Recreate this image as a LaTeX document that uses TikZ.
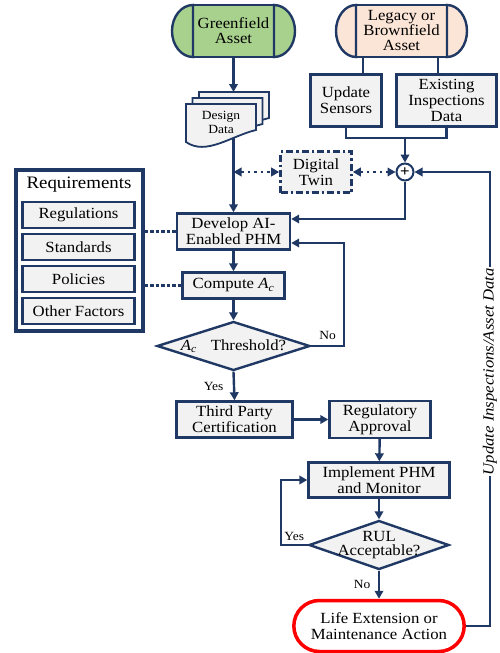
\documentclass[tikz,border=0pt]{standalone}
\usepackage{fontspec}
\setmainfont{Liberation Serif}[FakeStretch=1.08]
\usepackage{xcolor}
\usepackage{tikz}
\usetikzlibrary{arrows.meta, positioning, calc, shapes.geometric, shapes.misc}

\definecolor{navy}{HTML}{203864}
\definecolor{boxgray}{HTML}{F2F2F2}
\definecolor{greenfill}{HTML}{A9D18E}
\definecolor{peachfill}{HTML}{FBE5D6}

\newcommand{\Ac}{\textit{A}\textsubscript{\textit{c}}}
% one sheet of the stacked document symbol, top-left corner at (#1,#2)
\newcommand{\docsheet}[2]{%
  \draw[navy, line width=1.8pt, fill=boxgray] (#1,#2) -- ({#1+70},#2) -- ({#1+70},{#2-26})
    .. controls ({#1+45},{#2-32}) and ({#1+20},{#2-52}) .. (#1,{#2-38}) -- cycle;}

\begin{document}
\begin{tikzpicture}[
    x=1pt, y=1pt,
    font=\fontsize{15.5}{16}\selectfont,
    box/.style={draw=navy, line width=2.4pt, fill=boxgray, align=center, inner sep=1pt},
    capbox/.style={draw=navy, line width=2.4pt, align=center, inner sep=0pt, outer sep=0pt,
        minimum height=52pt, font=\fontsize{15.5}{15}\selectfont},
    dec/.style={draw=navy, line width=2.4pt, fill=boxgray, diamond, inner sep=0pt},
    reqbox/.style={box, minimum width=112pt, minimum height=26pt},
    twinbox/.style={box, dash pattern=on 7pt off 3pt on 2.5pt off 3pt, line width=2.6pt},
    arr/.style={navy, line width=2.4pt, -{Triangle[length=8pt, width=8.5pt]}},
    link/.style={navy, line width=2.4pt},
    dotarr/.style={navy, line width=2.6pt, dash pattern=on 2.5pt off 4pt,
        {Triangle[length=8pt, width=8.5pt]}-{Triangle[length=8pt, width=8.5pt]}},
    reqlink/.style={navy, line width=2.6pt, dash pattern=on 3.5pt off 2pt},
    lbl/.style={text=black, font=\fontsize{12.5}{14}\selectfont}
]
\useasboundingbox (0,0) rectangle (500,-653);

% start points
\node[capbox, fill=greenfill, minimum width=81pt] (green) at (233.5,-31) {Greenfield\\Asset};
\draw[link, fill=greenfill] (green.north west) arc[start angle=90, end angle=270, x radius=21, y radius=26] -- cycle;
\draw[link, fill=greenfill] (green.south east) arc[start angle=-90, end angle=90, x radius=21, y radius=26] -- cycle;

\node[capbox, fill=peachfill, minimum width=91pt] (legacy) at (401.5,-31) {Legacy or\\Brownfield\\Asset};
\draw[link, fill=peachfill] (legacy.north west) arc[start angle=90, end angle=270, x radius=20, y radius=26] -- cycle;
\draw[link, fill=peachfill] (legacy.south east) arc[start angle=-90, end angle=90, x radius=20, y radius=26] -- cycle;

\node[box, minimum width=71pt, minimum height=52pt] (sensors) at (346,-100.5) {Update\\Sensors};
\node[box, minimum width=100pt, minimum height=52pt] (existing) at (446.5,-100.5) {Existing\\Inspections\\Data};

% stacked design documents
\docsheet{199}{-92}
\docsheet{192.5}{-98}
\docsheet{186}{-104}
\node[lbl, align=center] (design) at (221,-122) {Design\\Data};
\coordinate (docstop) at (233.5,-92);
\coordinate (docfoot) at (233.5,-138);

\node[twinbox, minimum width=71pt, minimum height=41pt] (twin) at (316,-172) {Digital\\Twin};
\node[circle, draw=navy, line width=2pt, fill=white, minimum size=17pt, inner sep=0pt] (sum) at (405,-172) {\textbf{+}};
\coordinate (tap) at (docfoot |- twin);
\coordinate (join) at (405,-137);

% main flow
\node[box, minimum width=113pt, minimum height=36pt] (develop) at (233.5,-231.5) {Develop AI-\\Enabled PHM};
\node[box, minimum width=102pt, minimum height=26pt] (compute) at (233.5,-285.5) {Compute \Ac};
\node[dec, minimum width=153pt, minimum height=49pt] (thr) at (233.5,-346) {};
\node (thrtext) at (thr) {\Ac\hspace{14pt}Threshold?};
\node[box, minimum width=116pt, minimum height=36pt] (third) at (234.5,-419.5) {Third Party\\Certification};
\node[box, minimum width=101pt, minimum height=37pt] (reg) at (380,-419.5) {Regulatory\\Approval};
\node[box, minimum width=141pt, minimum height=35pt] (impl) at (379,-480) {Implement PHM\\and Monitor};
\node[dec, minimum width=140pt, minimum height=49pt] (rul) at (379,-545) {};
\node[align=center, font=\fontsize{15.5}{14.5}\selectfont] (rultext) at (rul) {RUL\\Acceptable?};
\node[rounded rectangle, draw=red, line width=3.5pt, fill=white, align=center,
    minimum width=177pt, minimum height=51pt] (life) at (379,-626) {Life Extension or\\Maintenance Action};

% requirements
\node[draw=navy, line width=4pt, fill=white, minimum width=127pt, minimum height=161pt] (req) at (79,-250) {};
\node[font=\fontsize{17.5}{18}\selectfont] (reqtitle) at (79,-185) {Requirements};
\node[reqbox] (regs) at (78.5,-215) {Regulations};
\node[reqbox, below=3.5pt of regs] (stds) {Standards};
\node[reqbox, below=3.5pt of stds] (pols) {Policies};
\node[reqbox, below=3.5pt of pols] (other) {Other Factors};

% connectors
\draw[arr] (green.south) -- (docstop);
\draw[link] ([xshift=-38.5pt]legacy.south) -- ([xshift=-38.5pt]legacy.south |- sensors.north);
\draw[link] ([xshift=36.5pt]legacy.south) -- ([xshift=36.5pt]legacy.south |- existing.north);
\draw[link] (sensors.south) -- ++(0,-10) -| (existing.south);
\draw[arr] (join) -- (sum.north);
\draw[dotarr] (tap) -- (twin.west);
\draw[dotarr] (twin.east) -- (sum.west);
\draw[arr] (docfoot) -- (develop.north);
\draw[arr] (sum.south) |- ([yshift=12.5pt]develop.east);
\draw[arr] (develop) -- (compute);
\draw[arr] (compute) -- (thr.north);
\draw[arr] (thr.east) -- node[lbl, above=2pt] (nolab) {No} ++(33,0) |- ([yshift=-11.5pt]develop.east);
\draw[arr] (thr.south) -- node[lbl, left=6pt] (yeslab) {Yes} (third.north);
\draw[arr] (third) -- (reg);
\draw[arr] (reg) -- (impl);
\draw[arr] (impl) -- (rul.north);
\draw[arr] (rul.west) -- node[lbl, above] (yeslab2) {Yes} ++(-27,0) |- (impl.west);
\draw[arr] (rul.south) -- node[lbl, left=4pt] (nolab2) {No} (life.north);
\draw[arr, line width=1.8pt] (life.east) -- ++(24,0) |- node[pos=0.28, fill=white, rotate=90, inner sep=1pt, text=black,
    font=\fontsize{15.5}{16}\selectfont\itshape] (fblabel) {Update Inspections/Asset Data} (sum.east);
\draw[reqlink] (req.east |- develop.west) -- (develop.west);
\draw[reqlink] (req.east |- compute.west) -- (compute.west);
\end{tikzpicture}
\end{document}
